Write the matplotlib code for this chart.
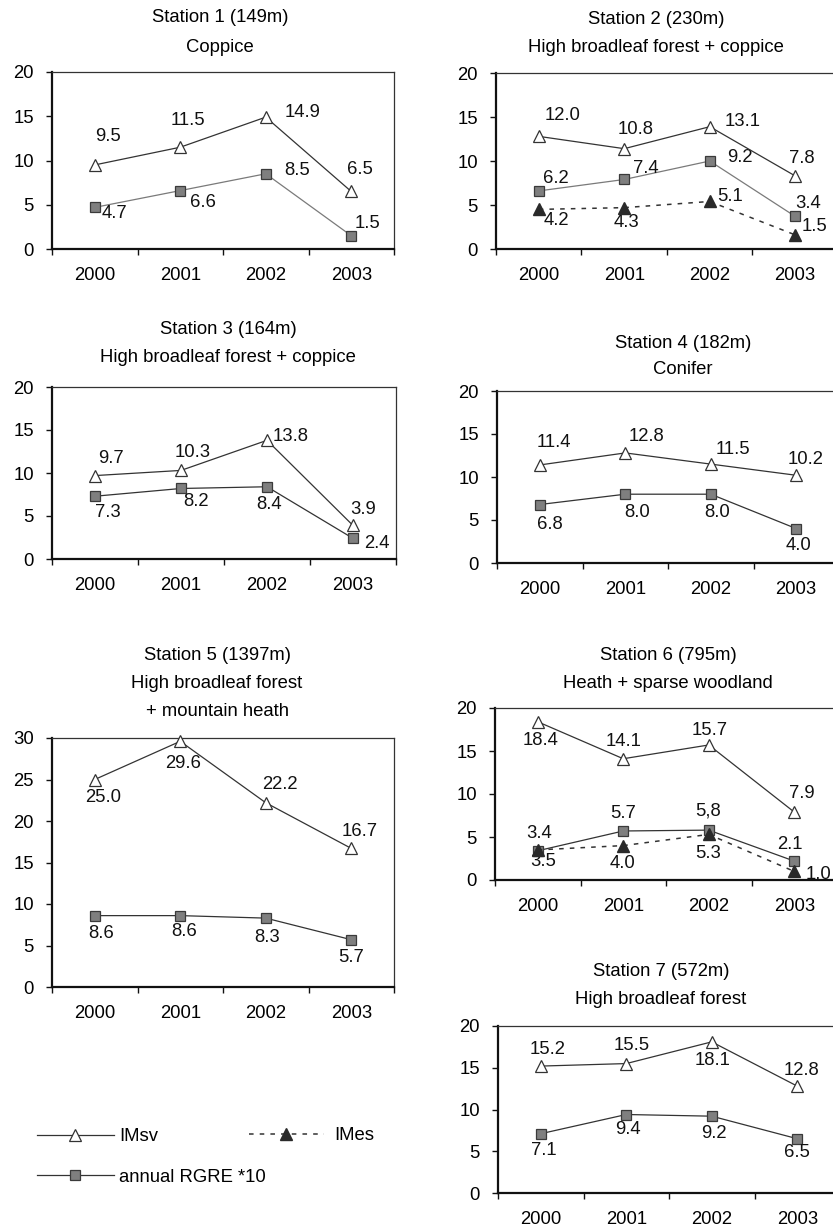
import matplotlib
matplotlib.use('Agg')
import matplotlib.pyplot as plt

plt.rcParams['font.family'] = ['Liberation Sans', 'DejaVu Sans']

# ---------------- data ----------------
years = ['2000', '2001', '2002', '2003']

s1_imsv = [9.5, 11.5, 14.9, 6.5]
s1_imsv_lbl = ['9.5', '11.5', '14.9', '6.5']
s1_rgre = [4.7, 6.6, 8.5, 1.5]
s1_rgre_lbl = ['4.7', '6.6', '8.5', '1.5']

s2_imsv = [12.8, 11.4, 13.9, 8.3]
s2_imsv_lbl = ['12.0', '10.8', '13.1', '7.8']
s2_rgre = [6.6, 7.9, 10.0, 3.7]
s2_rgre_lbl = ['6.2', '7.4', '9.2', '3.4']
s2_imes = [4.5, 4.7, 5.4, 1.6]
s2_imes_lbl = ['4.2', '4.3', '5.1', '1.5']

s3_imsv = [9.7, 10.3, 13.8, 3.9]
s3_imsv_lbl = ['9.7', '10.3', '13.8', '3.9']
s3_rgre = [7.3, 8.2, 8.4, 2.4]
s3_rgre_lbl = ['7.3', '8.2', '8.4', '2.4']

s4_imsv = [11.4, 12.8, 11.5, 10.2]
s4_imsv_lbl = ['11.4', '12.8', '11.5', '10.2']
s4_rgre = [6.8, 8.0, 8.0, 4.0]
s4_rgre_lbl = ['6.8', '8.0', '8.0', '4.0']

s5_imsv = [25.0, 29.6, 22.2, 16.7]
s5_imsv_lbl = ['25.0', '29.6', '22.2', '16.7']
s5_rgre = [8.6, 8.6, 8.3, 5.7]
s5_rgre_lbl = ['8.6', '8.6', '8.3', '5.7']

s6_imsv = [18.4, 14.1, 15.7, 7.9]
s6_imsv_lbl = ['18.4', '14.1', '15.7', '7.9']
s6_rgre = [3.4, 5.7, 5.8, 2.2]
s6_rgre_lbl = ['3.4', '5.7', '5,8', '2.1']
s6_imes = [3.5, 4.0, 5.3, 1.0]
s6_imes_lbl = ['3.5', '4.0', '5.3', '1.0']

s7_imsv = [15.2, 15.5, 18.1, 12.8]
s7_imsv_lbl = ['15.2', '15.5', '18.1', '12.8']
s7_rgre = [7.1, 9.4, 9.2, 6.5]
s7_rgre_lbl = ['7.1', '9.4', '9.2', '6.5']

titles = [
    ['Station 1 (149m)', 'Coppice'],
    ['Station 2 (230m)', 'High broadleaf forest + coppice'],
    ['Station 3 (164m)', 'High broadleaf forest + coppice'],
    ['Station 4 (182m)', 'Conifer'],
    ['Station 5 (1397m)', 'High broadleaf forest', '+ mountain heath'],
    ['Station 6 (795m)', 'Heath + sparse woodland'],
    ['Station 7 (572m)', 'High broadleaf forest'],
]
legend_labels = ['IMsv', 'IMes', 'annual RGRE *10']

# ---------------- layout (pixels) ----------------
W, H = 833, 1228
fig = plt.figure(figsize=(W / 100, H / 100), dpi=100)
FS = 13.3

# axes boxes: left, top, right, bottom (pixels)
boxes = [
    (52, 72, 394, 249),
    (496, 73, 838, 249),
    (52, 387, 396, 559),
    (497, 391, 839, 563),
    (52, 738, 394, 987),
    (495, 708, 837, 880),
    (498, 1026, 840, 1193),
]
title_pos = [
    (220, [18, 47]),
    (656, [19, 47]),
    (228, [329, 357]),
    (683, [343, 370]),
    (217, [655, 683, 711]),
    (668, [655, 683]),
    (661, [972, 1000]),
]
ymaxes = [20, 20, 20, 20, 30, 20, 20]

# label offsets (dx, dy in pixels, dy positive downward)
off_imsv = [
    [(13, -28), (8, -27), (37, -5), (9, -22)],
    [(24, -21), (11, -19), (33, -5), (7, -17)],
    [(16, -17), (12, -18), (24, -4), (10, -16)],
    [(14, -22), (21, -16), (22, -15), (9, -16)],
    [(8, 18), (3, 22), (14, -18), (8, -17)],
    [(3, 19), (0, -17), (1, -14), (8, -19)],
    [(7, -17), (5, -18), (1, 19), (4, -16)],
]
off_rgre = [
    [(20, 6), (23, 12), (31, -3), (16, -12)],
    [(17, -12), (22, -11), (30, -3), (13, -13)],
    [(13, 16), (15, 13), (2, 18), (24, 5)],
    [(10, 20), (12, 18), (6, 18), (2, 17)],
    [(6, 18), (4, 16), (1, 19), (0, 18)],
    [(1, -17), (0, -17), (-1, -19), (-4, -17)],
    [(3, 17), (2, 15), (2, 17), (0, 14)],
]
off_imes = {
    1: [(18, 11), (2, 15), (20, -5), (19, -8)],
    5: [(5, 12), (-1, 18), (-1, 19), (24, 3)],
}

panels = [
    (s1_imsv, s1_imsv_lbl, s1_rgre, s1_rgre_lbl, None, None, '#7a7a7a'),
    (s2_imsv, s2_imsv_lbl, s2_rgre, s2_rgre_lbl, s2_imes, s2_imes_lbl, '#7a7a7a'),
    (s3_imsv, s3_imsv_lbl, s3_rgre, s3_rgre_lbl, None, None, '#333333'),
    (s4_imsv, s4_imsv_lbl, s4_rgre, s4_rgre_lbl, None, None, '#333333'),
    (s5_imsv, s5_imsv_lbl, s5_rgre, s5_rgre_lbl, None, None, '#333333'),
    (s6_imsv, s6_imsv_lbl, s6_rgre, s6_rgre_lbl, s6_imes, s6_imes_lbl, '#333333'),
    (s7_imsv, s7_imsv_lbl, s7_rgre, s7_rgre_lbl, None, None, '#333333'),
]

imsv_style = dict(color='#333333', lw=0.9, marker='^', markersize=9,
                  markerfacecolor='white', markeredgecolor='#333333', markeredgewidth=0.9)
imes_style = dict(color='#333333', lw=1.1, ls=(0, (3, 4)), marker='^', markersize=9,
                  markerfacecolor='#2a2a2a', markeredgecolor='#2a2a2a')
rgre_marker = dict(marker='s', markersize=7, markerfacecolor='#7f7f7f',
                   markeredgecolor='#3a3a3a', markeredgewidth=0.9)

x = list(range(4))


def annotate(ax, xs, ys, lbls, offs):
    for xi, yi, t, (dx, dy) in zip(xs, ys, lbls, offs):
        ax.annotate(t, (xi, yi), xytext=(dx, -dy), textcoords='offset pixels',
                    ha='center', va='center', fontsize=FS, color='#111111',
                    annotation_clip=False)


handles = {}
for i, (box, (cx, cys), ymax, p) in enumerate(zip(boxes, title_pos, ymaxes, panels)):
    l, t, r, b = box
    ax = fig.add_axes([l / W, 1 - b / H, (r - l) / W, (b - t) / H])
    imsv, imsv_lbl, rgre, rgre_lbl, imes, imes_lbl, rcol = p

    h1, = ax.plot(x, imsv, zorder=4, clip_on=False, **imsv_style)
    h3, = ax.plot(x, rgre, color=rcol, lw=0.9, zorder=3, clip_on=False, **rgre_marker)
    annotate(ax, x, imsv, imsv_lbl, off_imsv[i])
    annotate(ax, x, rgre, rgre_lbl, off_rgre[i])
    if imes is not None:
        h2, = ax.plot(x, imes, zorder=5, clip_on=False, **imes_style)
        annotate(ax, x, imes, imes_lbl, off_imes[i])
        handles['imes'] = h2
    handles['imsv'] = h1
    if i == 4:
        handles['rgre'] = h3

    ax.set_xlim(-0.5, 3.5)
    ax.set_ylim(0, ymax)
    ax.set_yticks(range(0, ymax + 1, 5))
    ax.set_xticks(x)
    ax.set_xticklabels(years)
    ax.set_xticks([-0.5, 0.5, 1.5, 2.5, 3.5], minor=True)
    ax.tick_params(axis='x', which='major', length=0, pad=13, labelsize=FS)
    ax.tick_params(axis='x', which='minor', length=4, width=1.0, direction='out', color='#111111')
    ax.tick_params(axis='y', which='major', length=4, width=1.0, direction='out',
                   pad=9, labelsize=FS, color='#111111')
    for s in ['left', 'bottom']:
        ax.spines[s].set_linewidth(1.6)
        ax.spines[s].set_color('#111111')
    for s in ['top', 'right']:
        ax.spines[s].set_linewidth(0.9)
        ax.spines[s].set_color('#333333')
    ax.patch.set_alpha(0)

    for line, cy in zip(titles[i], cys):
        fig.text(cx / W, 1 - cy / H, line, ha='center', va='center', fontsize=FS)

# legends
fig.legend([handles['imsv'], handles['rgre']], [legend_labels[0], legend_labels[2]],
           loc='center left', bbox_to_anchor=(37 / W, 1 - 1157 / H),
           frameon=False, fontsize=FS, handlelength=4.15, handletextpad=0.3,
           labelspacing=1.25, borderpad=0, borderaxespad=0, numpoints=1)
fig.legend([handles['imes']], [legend_labels[1]],
           loc='center left', bbox_to_anchor=(249 / W, 1 - 1136 / H),
           frameon=False, fontsize=FS, handlelength=4.05, handletextpad=0.55,
           borderpad=0, borderaxespad=0, numpoints=1)

fig.savefig('out.png', dpi=100)
